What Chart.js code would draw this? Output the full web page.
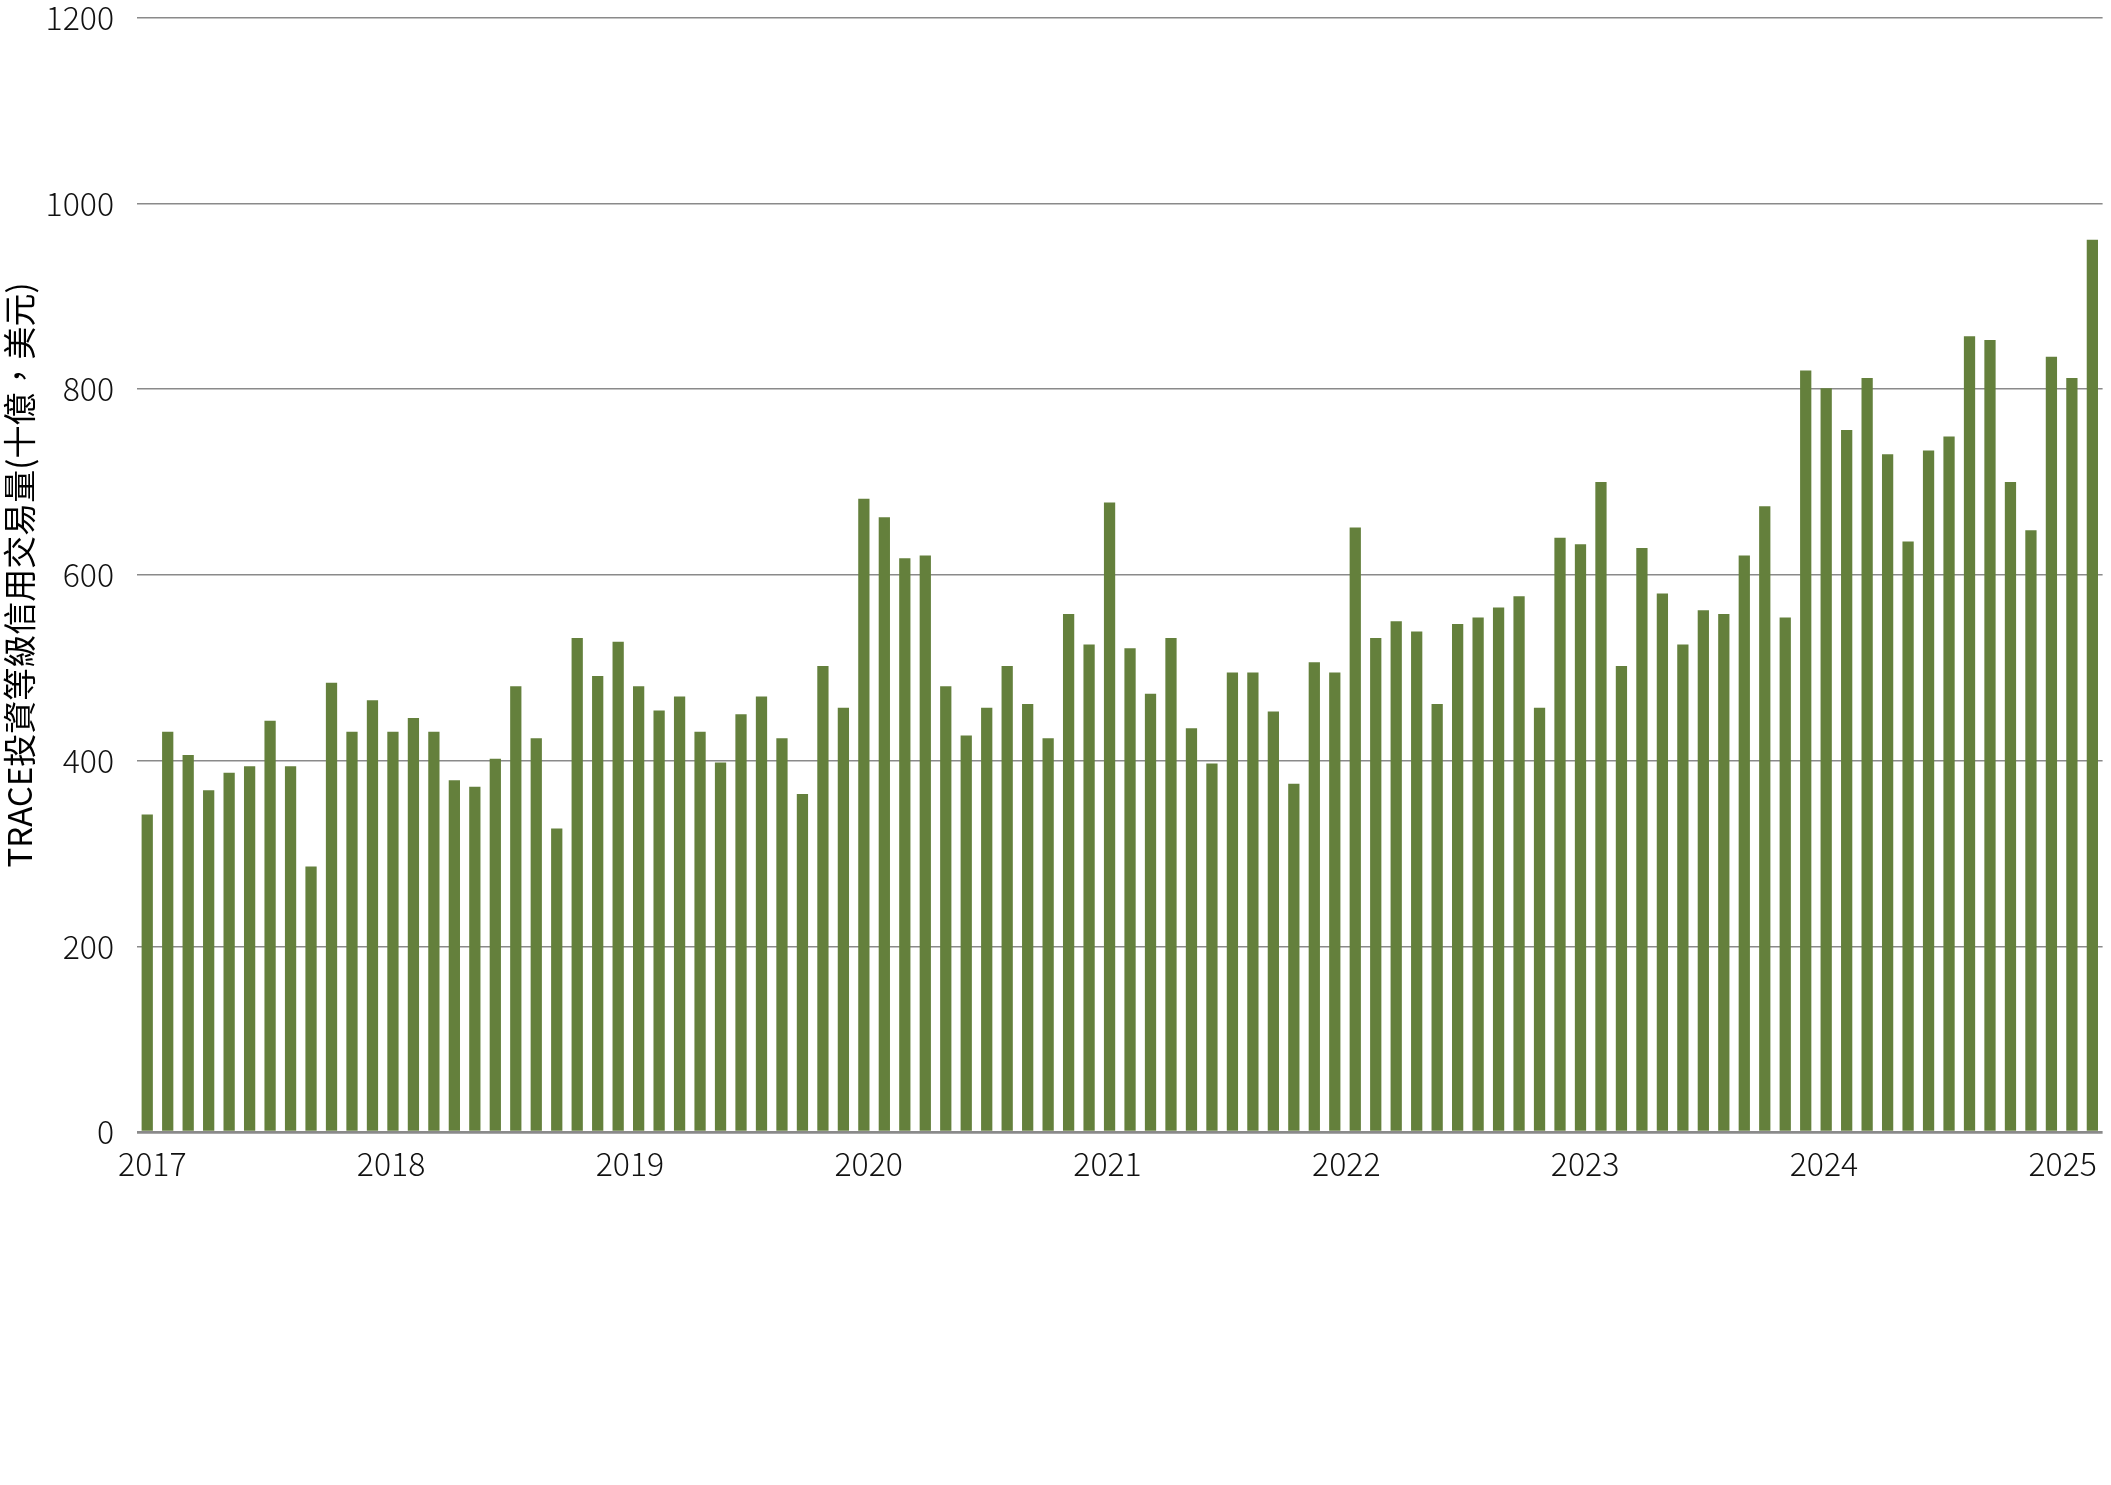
<!DOCTYPE html>
<html>
<head>
<meta charset="utf-8">
<script src="https://cdn.jsdelivr.net/npm/chart.js@4.4.1/dist/chart.umd.min.js"></script>
<style>
  html, body { margin: 0; padding: 0; background: #ffffff; }
  #wrap { width: 2111px; height: 1485px; }
</style>
</head>
<body>
<div id="wrap"><canvas id="c" width="2111" height="1485"></canvas></div>
<script>
// Monthly TRACE investment-grade volume (billions USD)
const volumes = [
  342, 431, 406, 368, 387, 394, 443, 394, 286, 484, 431, 465,
  431, 446, 431, 379, 372, 402, 480, 424, 327, 532, 491, 528,
  480, 454, 469, 431, 398, 450, 469, 424, 364, 502, 457, 682,
  662, 618, 621, 480, 427, 457, 502, 461, 424, 558, 525, 678,
  521, 472, 532, 435, 397, 495, 495, 453, 375, 506, 495, 651,
  532, 550, 539, 461, 547, 554, 565, 577, 457, 640, 633, 700,
  502, 629, 580, 525, 562, 558, 621, 674, 554, 820, 801, 756,
  812, 730, 636, 734, 749, 857, 853, 700, 648, 835, 812, 961
];
// One category per bar (period index)
const categories = volumes.map((_, i) => 'P' + (i + 1));
// Year tick labels along the bottom
const years = [2017, 2018, 2019, 2020, 2021, 2022, 2023, 2024, 2025];
const yearLabels = ['2017', '2018', '2019', '2020', '2021', '2022', '2023', '2024', '2025'];
const yTicks = [0, 200, 400, 600, 800, 1000, 1200];
const yTitle = 'TRACE投資等級信用交易量(十億，美元)';

const tickFont = { family: "'Noto Sans CJK TC', 'Noto Sans', sans-serif", size: 32, weight: 300, lineHeight: 1.2 };

new Chart(document.getElementById('c'), {
  type: 'bar',
  data: {
    labels: categories,
    datasets: [{
      data: volumes,
      backgroundColor: '#64803c',
      borderWidth: 0,
      categoryPercentage: 1.0,
      barPercentage: 0.55,
      xAxisID: 'x',
      yAxisID: 'y'
    }]
  },
  options: {
    responsive: false,
    animation: false,
    devicePixelRatio: 1,
    layout: { padding: { top: 17.7, right: 8.4, bottom: 288.5, left: 0 } },
    plugins: { legend: { display: false }, tooltip: { enabled: false } },
    scales: {
      x: {
        type: 'category',
        display: false,
        offset: true
      },
      xYear: {
        type: 'linear',
        position: 'bottom',
        bounds: 'data',
        offset: false,
        min: 2016.936,
        max: 2025.167,
        afterBuildTicks: (s) => {
          s.min = 2016.936;
          s.max = 2025.167;
          s.ticks = years.map(v => ({ value: v }));
        },
        grid: { display: false, drawTicks: false, offset: false },
        border: { display: false },
        ticks: {
          autoSkip: false,
          maxRotation: 0,
          padding: 13,
          color: '#111111',
          font: tickFont,
          callback: (v) => yearLabels[years.indexOf(Math.round(v))] ?? ''
        }
      },
      y: {
        min: 0,
        max: 1200,
        afterBuildTicks: (s) => { s.ticks = yTicks.map(v => ({ value: v })); },
        afterFit: (s) => { s.width = 137; s.paddingTop = 0; s.paddingBottom = 0; },
        grid: {
          color: '#8a8a8a',
          lineWidth: (ctx) => (ctx.tick && ctx.tick.value === 0 ? 2.7 : 1.5),
          drawTicks: false
        },
        border: { display: false },
        ticks: {
          padding: 23,
          color: '#111111',
          font: tickFont,
          callback: (v) => String(v)
        },
        title: {
          display: true,
          text: yTitle,
          color: '#000000',
          padding: { top: 0, bottom: 0 },
          font: { family: "'Noto Sans CJK TC', 'Noto Sans', sans-serif", size: 33, weight: 400, lineHeight: 1.2 }
        }
      }
    }
  }
});
</script>
</body>
</html>
